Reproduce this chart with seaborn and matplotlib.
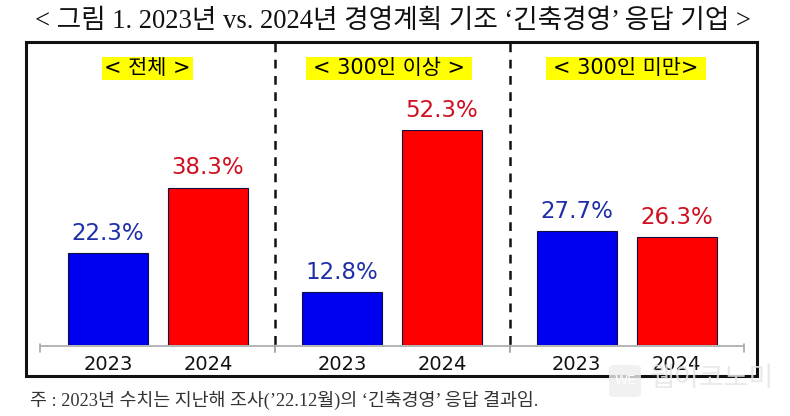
import matplotlib
matplotlib.use("Agg")
import matplotlib.pyplot as plt
import pandas as pd
import seaborn as sns
from matplotlib.lines import Line2D
from matplotlib.patches import FancyBboxPatch, Rectangle

W, H = 790, 416

panels = ["< 전체 >", "< 300인 이상 >", "< 300인 미만>"]
years = ["2023", "2024"]
total = [22.3, 38.3]
over_300 = [12.8, 52.3]
under_300 = [27.7, 26.3]
series = [total, over_300, under_300]

BAR_COLORS = ["#0000F0", "#FF0000"]
LABEL_COLORS = ["#1F2FA8", "#D01020"]
SANS = ["DejaVu Sans", "Noto Sans CJK KR"]
SERIF = ["Liberation Serif", "Noto Sans CJK KR"]

sns.set_theme(style="white")
plt.rcParams["font.family"] = SANS

fig = plt.figure(figsize=(W / 100, H / 100), dpi=100, facecolor="white")


def fx(x):
    return x / W


def fy(y):
    return 1 - y / H


# ── Panels ────────────────────────────────────────────────────────────────
edges = [40, 275, 510, 744]
offsets = [0.68, 0.67, 0.665]
BASE = 345
TOP = 130
YMAX = 52.3

for i, vals in enumerate(series):
    ax = fig.add_axes([fx(edges[i]), fy(BASE), fx(edges[i + 1] - edges[i]), (BASE - TOP) / H])
    df = pd.DataFrame({"year": years, "value": vals})
    sns.barplot(data=df, x="year", y="value", hue="year", palette=BAR_COLORS,
                width=0.8, saturation=1, legend=False, ax=ax,
                edgecolor="#101040", linewidth=0.8)
    ax.set_xlim(-offsets[i], -offsets[i] + (edges[i + 1] - edges[i]) / 100)
    ax.set_ylim(0, YMAX)
    ax.patch.set_alpha(0)
    ax.set_xlabel("")
    ax.set_ylabel("")
    ax.set_yticks([])
    ax.tick_params(axis="x", length=0, pad=7.5, labelsize=14, labelcolor="#111111")
    sns.despine(ax=ax, left=True, bottom=True)

    for j, v in enumerate(vals):
        ax.annotate(f"{v}%", (j, v), xytext=(0, 6), textcoords="offset points",
                    ha="center", va="bottom", fontsize=16.5, color=LABEL_COLORS[j],
                    annotation_clip=False)

    # bracket under the bars
    fig.add_artist(Line2D([fx(edges[i]), fx(edges[i + 1])], [fy(BASE + 1)] * 2,
                          color="#a8a8a8", lw=1.2))
    for e in (edges[i], edges[i + 1]):
        fig.add_artist(Line2D([fx(e)] * 2, [fy(BASE - 1), fy(BASE + 7)],
                              color="#a8a8a8", lw=1.2))

# ── Panel headings on yellow ──────────────────────────────────────────────
head_spans = [(102, 193), (306, 472), (546, 706)]
for (x0, x1), label in zip(head_spans, panels):
    fig.add_artist(Rectangle((fx(x0), fy(80)), fx(x1 - x0), 23 / H, facecolor="#FFFF00",
                             edgecolor="none", transform=fig.transFigure))
    fig.text(fx((x0 + x1) / 2), fy(68), label, ha="center", va="center", fontsize=15,
             color="black")

# ── Frame and dividers ────────────────────────────────────────────────────
fig.add_artist(Rectangle((fx(26), fy(376)), fx(757 - 26), (376 - 42) / H, fill=False,
                         edgecolor="#111111", lw=2.2, transform=fig.transFigure))
for x in (275, 510):
    fig.add_artist(Line2D([fx(x)] * 2, [fy(43), fy(348)], color="#111111", lw=1.8,
                          dashes=(3.5, 3)))

# ── Title and footnote ────────────────────────────────────────────────────
fig.text(fx(393), fy(22), "< 그림 1. 2023년 vs. 2024년 경영계획 기조 ‘긴축경영’ 응답 기업 >",
         ha="center", va="center", fontsize=19.2, color="#111111", family=SERIF)
fig.text(fx(30), fy(400), "주 : 2023년 수치는 지난해 조사(’22.12월)의 ‘긴축경영’ 응답 결과임.",
         ha="left", va="center", fontsize=13.25, color="#333333", family=SERIF)

# ── Watermark ─────────────────────────────────────────────────────────────
fig.add_artist(FancyBboxPatch((fx(609), fy(397)), fx(32), 32 / H,
                              boxstyle="round,pad=0,rounding_size=0.008",
                              facecolor="#eeeeee", edgecolor="none", alpha=0.8,
                              transform=fig.transFigure))
fig.text(fx(625), fy(381), "WE", ha="center", va="center", fontsize=9.5, color="white")
fig.text(fx(650), fy(379), "웹이코노미", ha="left", va="center", fontsize=19.5,
         color="#e6e6e6", alpha=0.85, family=["Noto Sans CJK KR"])

fig.savefig("out.png", dpi=100, facecolor="white")
